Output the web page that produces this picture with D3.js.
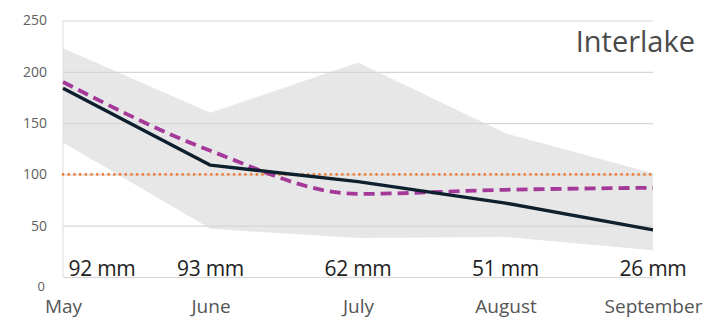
<!DOCTYPE html>
<html>
<head>
<meta charset="utf-8">
<script src="https://cdn.jsdelivr.net/npm/d3@7"></script>
<style>
  html, body { margin: 0; padding: 0; background: #fff; }
  svg { display: block; }
  text { font-family: "Open Sans", "Noto Sans", sans-serif; }
</style>
</head>
<body>
<svg id="chart" width="724" height="320"></svg>
<script>
// Monthly precipitation as percent of normal, Interlake region
const months = ["May", "June", "July", "August", "September"];
const rainfall = ["92 mm", "93 mm", "62 mm", "51 mm", "26 mm"];
const currentYear = [184, 109, 93, 72, 46];
const comparisonYear = [190, 123, 81, 85, 87];
const rangeHigh = [223, 160, 209, 140, 101];
const rangeLow = [131, 47, 38, 39, 26];
const normalLevel = 100;
const yTicks = [0, 50, 100, 150, 200, 250];
const regionName = "Interlake";

const svg = d3.select("#chart");

const x = d3.scalePoint().domain(months).range([63, 653]);
const y = d3.scaleLinear().domain([0, 250]).range([277, 20.5]);

// historical range band
const band = d3.area()
  .x((d, i) => x(months[i]))
  .y0((d, i) => y(rangeLow[i]))
  .y1((d, i) => y(rangeHigh[i]));
svg.append("path")
  .datum(rangeHigh)
  .attr("d", band)
  .attr("fill", "#e7e7e7");

// gridlines and y tick labels
const yAxis = d3.axisLeft(y)
  .tickValues(yTicks)
  .tickSizeInner(-(x.range()[1] - x.range()[0]))
  .tickSizeOuter(0)
  .tickPadding(16);
const gy = svg.append("g")
  .attr("transform", `translate(${x.range()[0]},0)`)
  .call(yAxis);
gy.select(".domain").remove();
gy.selectAll(".tick line")
  .attr("stroke", "#d9d5d2")
  .attr("stroke-width", 1.2);
gy.selectAll(".tick text")
  .attr("font-size", 14)
  .attr("fill", "#606060")
  .attr("font-family", "'Open Sans', sans-serif");
// the zero label sits just below the baseline
gy.selectAll(".tick text")
  .filter(d => d === 0)
  .attr("font-size", 13)
  .attr("dy", "1.05em")
  .attr("x", -18);

// left frame line
svg.append("line")
  .attr("x1", x.range()[0]).attr("x2", x.range()[0])
  .attr("y1", y(250)).attr("y2", y(0))
  .attr("stroke", "#e2dfdc")
  .attr("stroke-width", 1);

// normal (100%) reference
svg.append("line")
  .attr("x1", x.range()[0]).attr("x2", x.range()[1])
  .attr("y1", y(normalLevel)).attr("y2", y(normalLevel))
  .attr("stroke", "#f07a32")
  .attr("stroke-width", 2.6)
  .attr("stroke-linecap", "round")
  .attr("stroke-dasharray", "0.1 5.6");

// comparison year, dashed
const smoothLine = d3.line()
  .x((d, i) => x(months[i]))
  .y(d => y(d))
  .curve(d3.curveMonotoneX);
svg.append("path")
  .datum(comparisonYear)
  .attr("d", smoothLine)
  .attr("fill", "none")
  .attr("stroke", "#a4399a")
  .attr("stroke-width", 3.8)
  .attr("stroke-dasharray", "11 6");

// current year, solid
const straightLine = d3.line()
  .x((d, i) => x(months[i]))
  .y(d => y(d));
svg.append("path")
  .datum(currentYear)
  .attr("d", straightLine)
  .attr("fill", "none")
  .attr("stroke", "#0e1f2e")
  .attr("stroke-width", 3.4)
  .attr("stroke-linejoin", "round");

// monthly rainfall totals
svg.append("g")
  .selectAll("text")
  .data(rainfall)
  .join("text")
  .attr("x", (d, i) => i === 0 ? x(months[i]) + 39 : x(months[i]))
  .attr("y", 276)
  .attr("text-anchor", "middle")
  .attr("font-size", 21)
  .attr("letter-spacing", "-0.3")
  .attr("fill", "#1e1e1e")
  .text(d => d);

// month labels
const xAxis = d3.axisBottom(x).tickSize(0).tickPadding(0);
const gx = svg.append("g")
  .attr("transform", "translate(0,299)")
  .call(xAxis);
gx.select(".domain").remove();
gx.selectAll(".tick text")
  .attr("font-size", 19)
  .attr("fill", "#555")
  .attr("font-family", "'Open Sans', sans-serif");

// region title
svg.append("text")
  .attr("x", 695)
  .attr("y", 52)
  .attr("text-anchor", "end")
  .attr("font-size", 29)
  .attr("fill", "#4a4a4a")
  .text(regionName);
</script>
</body>
</html>
